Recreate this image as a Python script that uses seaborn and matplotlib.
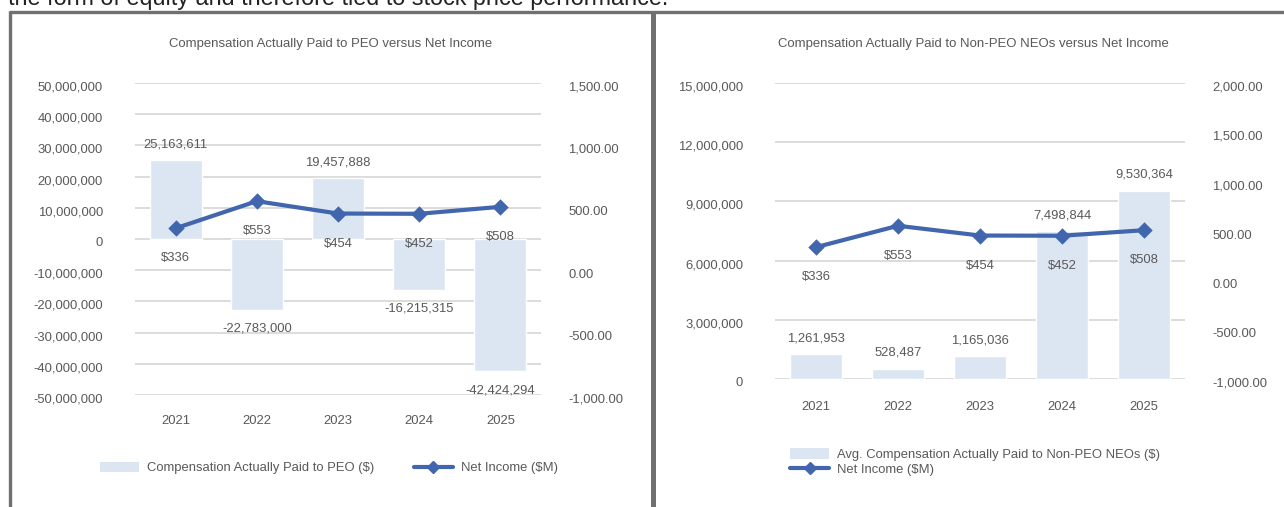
import matplotlib
matplotlib.use("Agg")
import matplotlib.pyplot as plt
import seaborn as sns
import pandas as pd
from matplotlib.patches import Patch
from matplotlib.lines import Line2D
from matplotlib.transforms import ScaledTranslation

# ---- data ----
years = ["2021", "2022", "2023", "2024", "2025"]
peo_cap = [25163611, -22783000, 19457888, -16215315, -42424294]
neo_cap = [1261953, 528487, 1165036, 7498844, 9530364]
net_income = [336, 553, 454, 452, 508]

peo_title = "Compensation Actually Paid to PEO versus Net Income"
neo_title = "Compensation Actually Paid to Non-PEO NEOs versus Net Income"
peo_legend = "Compensation Actually Paid to PEO ($)"
neo_legend = "Avg. Compensation Actually Paid to Non-PEO NEOs ($)"
ni_legend = "Net Income ($M)"
intro_text = "the form of equity and therefore tied to stock price performance."

peo_left_ticks = [50e6, 40e6, 30e6, 20e6, 10e6, 0, -10e6, -20e6, -30e6, -40e6, -50e6]
peo_right_ticks = [1500, 1000, 500, 0, -500, -1000]
neo_left_ticks = [15e6, 12e6, 9e6, 6e6, 3e6, 0]
neo_right_ticks = [2000, 1500, 1000, 500, 0, -500, -1000]

BAR = "#dce6f2"
LINE = "#4166ad"
TXT = "#595959"
GRID = "#d9d9d9"
BORDER = "#707070"
FS = 9.4

sns.set_theme(style="white")
plt.rcParams["font.family"] = ["Liberation Sans", "DejaVu Sans"]

W, H = 1284, 507
fig = plt.figure(figsize=(W / 100, H / 100), dpi=100)


def ax_rect(x0, y0, x1, y1):
    return [x0 / W, 1 - y1 / H, (x1 - x0) / W, (y1 - y0) / H]


def shift(labels, dy_px):
    off = ScaledTranslation(0, -dy_px / 100, fig.dpi_scale_trans)
    for lb in labels:
        lb.set_transform(lb.get_transform() + off)


def panel(rect, cap, ylim, yticks, y2lim, y2ticks, title, title_x, legend_label,
          legend_kw, xpad):
    ax = fig.add_axes(rect)
    df = pd.DataFrame({"year": years, "cap": cap})
    sns.barplot(data=df, x="year", y="cap", ax=ax, color=BAR, saturation=1,
                width=0.64, zorder=2)
    ax.set_ylim(*ylim)
    ax.set_yticks(yticks)
    ax.set_yticklabels([f"{int(v):,}" for v in yticks])
    ax.yaxis.grid(True, color=GRID, lw=1.3, zorder=0)
    ax.set_axisbelow(True)
    for s in ax.spines.values():
        s.set_visible(False)
    ax.tick_params(axis="y", length=0, pad=23, labelsize=FS, labelcolor=TXT)
    ax.tick_params(axis="x", length=0, pad=xpad, labelsize=FS, labelcolor=TXT)
    ax.set_xlabel("")
    ax.set_ylabel("")
    shift(ax.get_yticklabels(), 3)
    for i, v in enumerate(cap):
        off = 11.5 if v >= 0 else -13.5
        ax.annotate(f"{v:,}", (i, v), xytext=(0, off), textcoords="offset points",
                    ha="center", va="center", fontsize=FS, color=TXT, zorder=5)

    ax2 = ax.twinx()
    dfl = pd.DataFrame({"year": years, "ni": net_income})
    sns.pointplot(data=dfl, x="year", y="ni", ax=ax2, color=LINE, markers="D",
                  markersize=6.5, linewidth=3.0, zorder=4)
    ax2.set_ylim(*y2lim)
    ax2.set_yticks(y2ticks)
    ax2.set_yticklabels([f"{v:,.2f}" for v in y2ticks])
    for s in ax2.spines.values():
        s.set_visible(False)
    ax2.grid(False)
    ax2.tick_params(axis="y", length=0, pad=19.5, labelsize=FS, labelcolor=TXT)
    ax2.set_ylabel("")
    ax2.set_xlabel("")
    shift(ax2.get_yticklabels(), 3)
    for i, v in enumerate(net_income):
        ax2.annotate(f"${v}", (i, v), xytext=(0, -21.6), textcoords="offset points",
                     ha="center", va="center", fontsize=FS, color=TXT, zorder=5)
    ax.set_xlim(-0.5, len(years) - 0.5)

    fig.text(title_x / W, 1 - 44 / H, title, ha="center", va="center",
             fontsize=9.45, color=TXT)

    handles = [Patch(facecolor=BAR, edgecolor="none", label=legend_label),
               Line2D([0], [0], color=LINE, lw=3.0, marker="D", markersize=6.5, label=ni_legend)]
    fig.legend(handles=handles, frameon=False, fontsize=FS, labelcolor=TXT,
               handlelength=3.0, handleheight=0.9, handletextpad=0.6, **legend_kw)
    return ax, ax2


panel(ax_rect(135, 83, 541, 395), peo_cap, (-50e6, 50e6), peo_left_ticks,
      (-1000, 1500), peo_right_ticks, peo_title, 331, peo_legend,
      dict(loc="center", bbox_to_anchor=(329 / W, 1 - 468 / H), ncol=2, columnspacing=3.0),
      14.5)

panel(ax_rect(775, 83, 1185, 379), neo_cap, (0, 15e6), neo_left_ticks,
      (-1000, 2000), neo_right_ticks, neo_title, 973, neo_legend,
      dict(loc="center", bbox_to_anchor=(975 / W, 1 - 462 / H), ncol=1, labelspacing=0.15),
      15.5)

# panel borders
def fline(xs, ys, lw):
    fig.add_artist(Line2D([x / W for x in xs], [1 - y / H for y in ys], color=BORDER,
                          lw=lw, transform=fig.transFigure, solid_capstyle="butt"))

fline([10, 10], [11, 507], 2.4)
fline([9, 1284], [12, 12], 2.4)
fline([652.5, 652.5], [11, 507], 3.6)

fig.text(8 / W, 1 - 4.5 / H, intro_text, ha="left", va="baseline", fontsize=16.8, color="#222222")

fig.savefig("out.png", dpi=100)
